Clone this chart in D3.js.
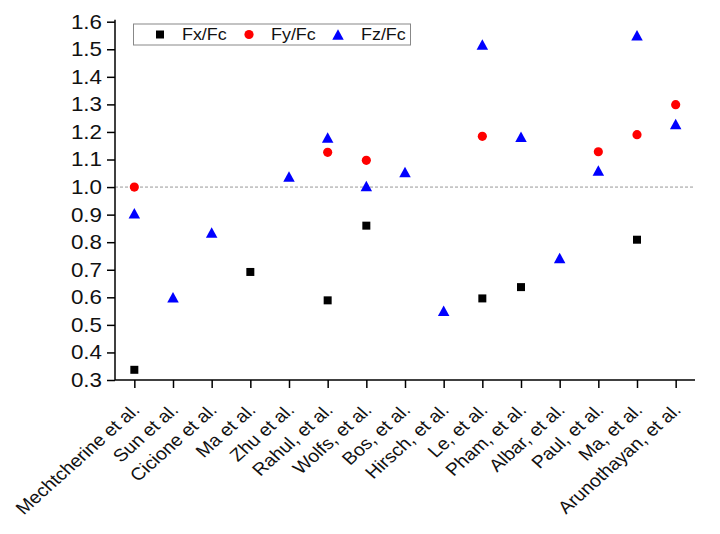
<!DOCTYPE html>
<html><head><meta charset="utf-8">
<script src="https://cdn.jsdelivr.net/npm/d3@7"></script>
<style>body{margin:0;background:#fff}svg{display:block;font-family:"Liberation Sans",Arial,sans-serif}</style>
</head><body><svg id="c" width="720" height="534"></svg>
<script>
const categories = ["Mechtcherine et al.","Sun et al.","Cicione et al.","Ma et al.","Zhu et al.","Rahul, et al.","Wolfs, et al.","Bos, et al.","Hirsch, et al.","Le, et al.","Pham, et al.","Albar, et al.","Paul, et al.","Ma, et al.","Arunothayan, et al."];
const fx = [0.337,null,null,0.692,null,0.589,0.860,null,null,0.596,0.637,null,null,0.809,null];
const fy = [1.0,null,null,null,null,1.126,1.097,null,null,1.184,null,null,1.128,1.190,1.299];
const fz = [0.905,0.600,0.835,null,1.038,1.180,1.004,1.055,0.551,1.517,1.183,0.743,1.060,1.551,1.229];
const yTicks = [0.3,0.4,0.5,0.6,0.7,0.8,0.9,1.0,1.1,1.2,1.3,1.4,1.5,1.6];
const seriesNames = ["Fx/Fc","Fy/Fc","Fz/Fc"];

const svg = d3.select("#c");
const L=115, R=695, T=21.7, B=380;
const SX = 1.12; // horizontal stretch of the glyphs in the original
const x = d3.scalePoint().domain(categories).range([L,R]).padding(0.5);
const y = d3.scaleLinear().domain([0.3,1.6]).range([B,T]);
const FONT = "'Liberation Sans',Arial,sans-serif";

// reference line
svg.append("line").attr("x1",L).attr("x2",R).attr("y1",y(1.0)).attr("y2",y(1.0))
  .attr("stroke","#999").attr("stroke-width",1).attr("stroke-dasharray","3,2");

// axes
const yAxis = d3.axisLeft(y).tickValues(yTicks).tickFormat(d3.format(".1f")).tickSize(8).tickPadding(4);
const gy = svg.append("g").attr("transform",`translate(${L},0)`).call(yAxis);
gy.select(".domain").attr("stroke","#000").attr("stroke-width",1.5).attr("d",`M0,${B}V${T-2}`);
gy.selectAll(".tick line").attr("stroke","#000").attr("stroke-width",1.5);
gy.selectAll("text").attr("font-size",20).attr("fill","#111").attr("font-family",FONT)
  .attr("x",-13/SX).attr("transform",`scale(${SX},1)`);

const xAxis = d3.axisBottom(x).tickSize(8).tickSizeOuter(0);
const gx = svg.append("g").attr("transform",`translate(0,${B})`).call(xAxis);
gx.select(".domain").attr("stroke","#000").attr("stroke-width",1.5).attr("d",`M${L},0H${R}`);
gx.selectAll(".tick line").attr("stroke","#000").attr("stroke-width",1.5);
gx.selectAll("text").attr("font-size",17.5).attr("fill","#111").attr("font-family",FONT)
  .attr("text-anchor","end").attr("dy",0).attr("y",0)
  .attr("transform",`translate(6,31) scale(${SX},1) rotate(-45)`);

// markers
const triPath = (w,h)=>`M0,${-h/2}L${w/2},${h/2}L${-w/2},${h/2}Z`;
const sym = {
  sq: d3.symbol().type(d3.symbolSquare).size(64)(),
  ci: d3.symbol().type(d3.symbolCircle).size(66)(),
  tr: triPath(11.5,10.5)
};
function plot(vals, path, color){
  svg.append("g").selectAll("path").data(categories.map((c,i)=>({c,v:vals[i]})).filter(d=>d.v!=null))
    .join("path").attr("d",path).attr("fill",color)
    .attr("transform",d=>`translate(${x(d.c)},${y(d.v)})`);
}
plot(fx, sym.sq, "#000");
plot(fy, sym.ci, "#ff0000");
plot(fz, sym.tr, "#0000ff");

// legend
const lg = svg.append("g");
lg.append("rect").attr("x",133.5).attr("y",24).attr("width",277).attr("height",21)
  .attr("fill","#fff").attr("stroke","#888").attr("stroke-width",1);
const legendItems = [
  {name:seriesNames[0], p:sym.sq, c:"#000", mx:160, tx:182},
  {name:seriesNames[1], p:sym.ci, c:"#ff0000", mx:249, tx:271},
  {name:seriesNames[2], p:sym.tr, c:"#0000ff", mx:338, tx:361}
];
legendItems.forEach(it=>{
  lg.append("path").attr("d",it.p).attr("fill",it.c).attr("transform",`translate(${it.mx},34.5)`);
  lg.append("text").attr("x",it.tx/SX).attr("y",40.5).attr("font-size",16).attr("fill","#111")
    .attr("font-family",FONT).attr("transform",`scale(${SX},1)`).text(it.name);
});
</script></body></html>
